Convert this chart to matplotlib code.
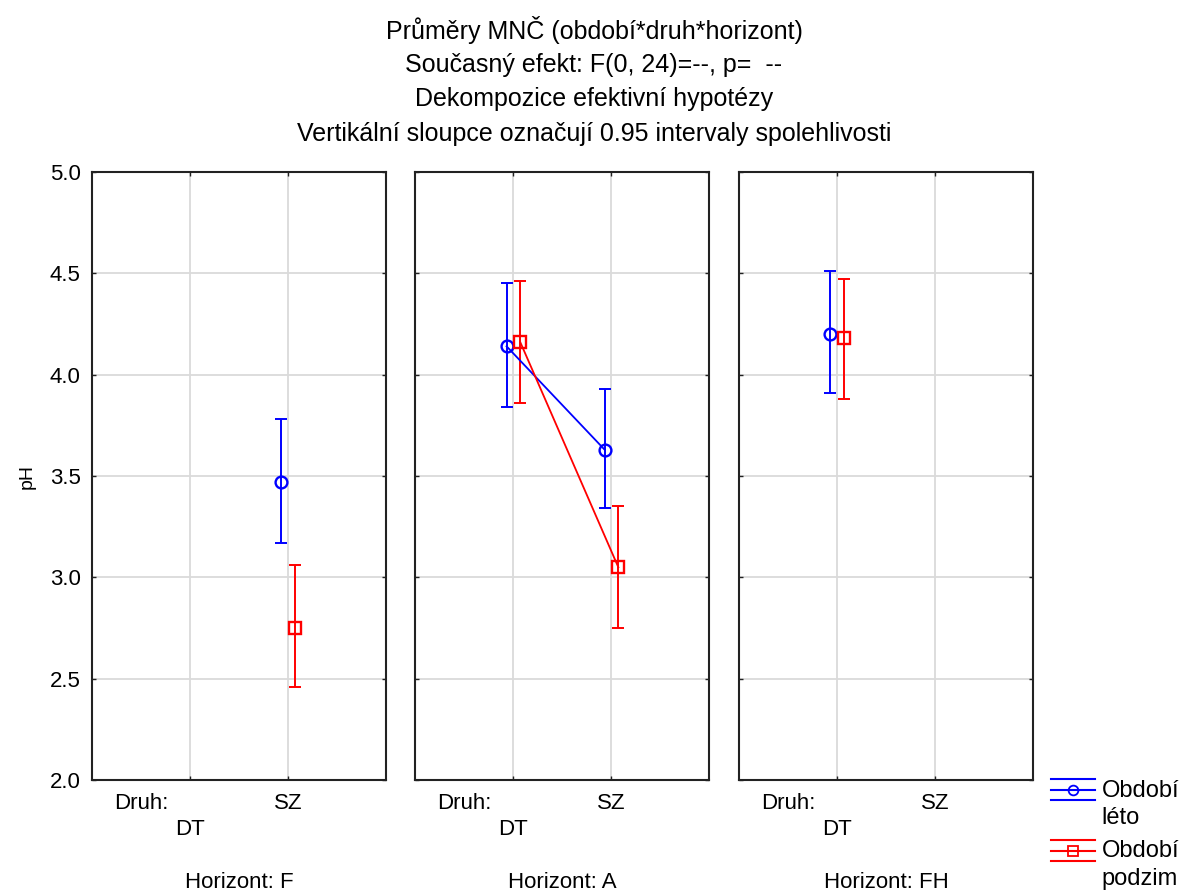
import numpy as np
import matplotlib
matplotlib.use("Agg")
import matplotlib.pyplot as plt
from matplotlib import rcParams
from matplotlib.lines import Line2D
from matplotlib.legend_handler import HandlerBase

# ── Style ─────────────────────────────────────────────────────────────────────
rcParams.update({
    "font.family":       ["Liberation Sans", "DejaVu Sans"],
    "font.size":         16,
    "axes.linewidth":    1.5,
    "axes.edgecolor":    "#222222",
    "xtick.direction":   "in",
    "ytick.direction":   "in",
    "xtick.major.size":  3,
    "ytick.major.size":  3,
    "xtick.major.width": 1.0,
    "ytick.major.width": 1.0,
    "xtick.labelsize":   16,
    "ytick.labelsize":   16,
})

C_LETO   = "#0000FF"
C_PODZIM = "#FF0000"
C_GRID   = "#DADADA"

# ── Data (means and 0.95 CI, pH) ──────────────────────────────────────────────
nan = np.nan
HORIZONTY = ["F", "A", "FH"]
DRUHY     = ["DT", "SZ"]

# Období léto: rows = horizont, cols = druh
LETO_MEAN = [[nan, 3.47], [4.14, 3.63], [4.20, nan]]
LETO_LO   = [[nan, 3.17], [3.84, 3.34], [3.91, nan]]
LETO_HI   = [[nan, 3.78], [4.45, 3.93], [4.51, nan]]

# Období podzim
PODZIM_MEAN = [[nan, 2.75], [4.16, 3.05], [4.18, nan]]
PODZIM_LO   = [[nan, 2.46], [3.86, 2.75], [3.88, nan]]
PODZIM_HI   = [[nan, 3.06], [4.46, 3.35], [4.47, nan]]

TITLE_LINES = [
    "Průměry MNČ (období*druh*horizont)",
    "Současný efekt: F(0, 24)=--, p=  --",
    "Dekompozice efektivní hypotézy",
    "Vertikální sloupce označují 0.95 intervaly spolehlivosti",
]


# ── Legend glyph: horizontal whisker with caps (Statistica style) ─────────────
class HandlerCI(HandlerBase):
    def create_artists(self, legend, orig_handle, xdescent, ydescent,
                       width, height, fontsize, trans):
        color  = orig_handle.get_color()
        marker = orig_handle.get_marker()
        y_mid  = height / 2 - ydescent + 0.62 * fontsize   # first label line
        gap    = 0.44 * fontsize
        xs     = [-xdescent, -xdescent + width]
        arts = [Line2D(xs, [y_mid + dy] * 2, color=color, lw=1.5)
                for dy in (-gap, 0, gap)]
        arts.append(Line2D([xs[0] + width / 2], [y_mid], marker=marker,
                           ms=7, mfc="none", mec=color, mew=1.3, ls="none"))
        for a in arts:
            a.set_transform(trans)
        return arts


def draw_series(ax, x, mean, lo, hi, color, marker, ms):
    mean = np.asarray(mean)
    yerr = [mean - np.asarray(lo), np.asarray(hi) - mean]
    ax.errorbar(x, mean, yerr=yerr, fmt="none", ecolor=color,
                elinewidth=1.4, capsize=4.3, capthick=1.4, zorder=3)
    ax.plot(x, mean, color=color, lw=1.3, marker=marker, ms=ms,
            mfc="none", mec=color, mew=1.7, zorder=4)


# ── Figure ────────────────────────────────────────────────────────────────────
fig, axes = plt.subplots(1, 3, figsize=(11.88, 8.93), dpi=100, sharey=True)
fig.subplots_adjust(left=0.0774, right=0.8695, bottom=0.1265, top=0.8074,
                    wspace=0.1)

x_cat = np.arange(1, len(DRUHY) + 1)
off   = 0.07

for i, (ax, hz) in enumerate(zip(axes, HORIZONTY)):
    ax.set_xlim(0, 3)
    ax.set_ylim(2.0, 5.0)
    ax.set_yticks(np.arange(2.0, 5.01, 0.5))
    ax.yaxis.set_major_formatter(plt.FormatStrFormatter("%.1f"))
    ax.set_xticks(x_cat, ["\n" + DRUHY[0]] + DRUHY[1:])
    ax.grid(True, color=C_GRID, lw=1.3)
    ax.set_axisbelow(True)
    ax.tick_params(top=True, right=True, pad=8, colors="#222222",
                   labelcolor="black")
    ax.tick_params(axis="x", labelsize=16, pad=9)
    for t in ax.get_xticklabels():
        t.set_linespacing(1.35)

    draw_series(ax, x_cat - off, LETO_MEAN[i], LETO_LO[i], LETO_HI[i],
                C_LETO, "o", 8.5)
    draw_series(ax, x_cat + off, PODZIM_MEAN[i], PODZIM_LO[i], PODZIM_HI[i],
                C_PODZIM, "s", 8)

    ax.annotate("Druh:", xy=(0.5, 0), xycoords=ax.get_xaxis_transform(),
                xytext=(0, -9), textcoords="offset points",
                ha="center", va="top", fontsize=16)
    ax.set_xlabel(f"Horizont: {hz}", fontsize=16, labelpad=23)

axes[0].set_ylabel("pH", fontsize=14, labelpad=10)

for k, line in enumerate(TITLE_LINES):
    fig.text(0.5, 0.966 - k * 0.0385, line, ha="center", va="center",
             fontsize=18)

h_leto   = Line2D([], [], color=C_LETO, marker="o")
h_podzim = Line2D([], [], color=C_PODZIM, marker="s")
leg = fig.legend([h_leto, h_podzim], ["Období\nléto", "Období\npodzim"],
                 loc="upper left", bbox_to_anchor=(0.8847, 0.127),
                 frameon=False, borderpad=0, borderaxespad=0,
                 handlelength=1.85, handletextpad=0.3, labelspacing=0.5,
                 fontsize=17,
                 handler_map={h_leto: HandlerCI(), h_podzim: HandlerCI()})
for t in leg.get_texts():
    t.set_linespacing(1.3)

fig.savefig("out.png", dpi=100)
